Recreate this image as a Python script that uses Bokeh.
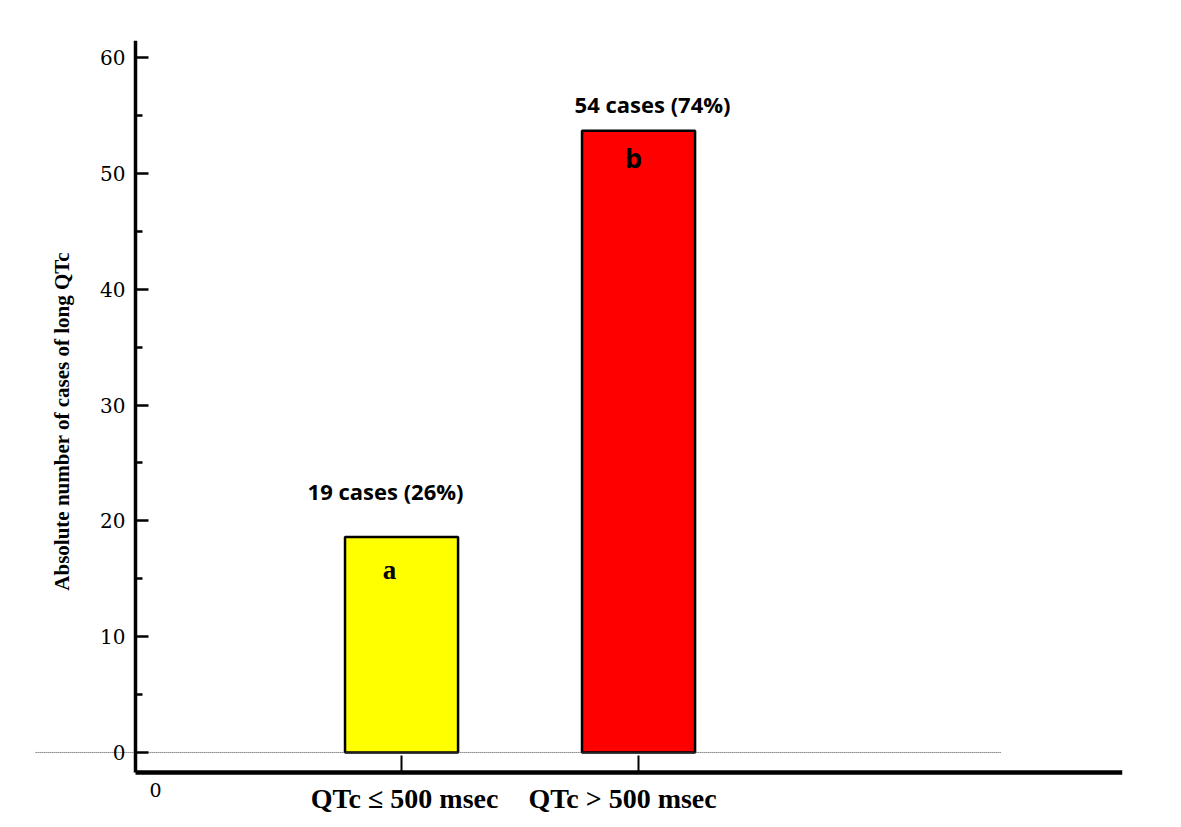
import math
from bokeh.plotting import figure
from bokeh.models import Range1d, FixedTicker, ColumnDataSource
from bokeh.core.properties import value
from bokeh.embed import file_html
from bokeh.resources import INLINE

categories = ["QTc ≤ 500 msec", "QTc > 500 msec"]
positions = [1, 2]
counts = [18.6, 53.7]
top_labels = ["19 cases (26%)", "54 cases (74%)"]
letters = ["a", "b"]
colors = ["#FFFF00", "#FF0000"]
y_title = "Absolute number of cases of long QTc"

# styling (pixels / fonts)
label_dx = [-16, 14]
label_dy = [-46, -27]
letter_dx = [-12, -5]
letter_dy = [33, 27]
letter_fonts = ["Liberation Serif", "Open Sans"]
cat_dx = [3, -16]

Y_AXIS_AT = -0.1224
X_AXIS_AT = -1.727
Y_TITLE_CENTER = 28.6

p = figure(width=1165, height=819, output_backend="svg", toolbar_location=None,
           x_range=Range1d(-0.65, 4.042), y_range=Range1d(-5.79, 61.49),
           min_border_left=10, min_border_right=43, min_border_top=40, min_border_bottom=0)
p.outline_line_color = None
p.xgrid.visible = False
p.ygrid.visible = False
p.background_fill_color = "white"

src = ColumnDataSource(dict(x=positions, top=counts, color=colors, lab=top_labels,
                            let=letters, ldx=label_dx, ldy=label_dy, tdx=letter_dx,
                            tdy=letter_dy, font=letter_fonts, cat=categories, cdx=cat_dx,
                            base=[X_AXIS_AT] * len(positions)))

p.vbar(x="x", top="top", bottom=0, width=0.477, fill_color="color", line_color="black",
       line_width=2.5, source=src)

# dotted zero line
p.segment(x0=-0.544, x1=3.53, y0=0, y1=0, line_color="#444444", line_width=1, line_dash="1 1")

p.text(x="x", y="top", text="lab", x_offset="ldx", y_offset="ldy", source=src,
       text_font=value("Open Sans"), text_font_style="bold", text_font_size="22px",
       text_align="center", text_baseline="middle", text_color="black")
p.text(x="x", y="top", text="let", x_offset="tdx", y_offset="tdy", source=src,
       text_font="font", text_font_style="bold", text_font_size="27px",
       text_align="center", text_baseline="middle", text_color="black")

# category labels under the x axis
p.text(x="x", y="base", text="cat", x_offset="cdx", y_offset=26, source=src,
       text_font=value("Liberation Serif"), text_font_style="bold", text_font_size="28px",
       text_align="center", text_baseline="middle", text_color="black")

# origin label "0"
p.text(x=[0], y=[X_AXIS_AT], text=["0"], y_offset=18, x_offset=-9,
       text_font=value("DejaVu Serif"), text_font_size="19px", text_align="center",
       text_baseline="middle", text_color="black")

# y axis title
p.text(x=[Y_AXIS_AT], y=[Y_TITLE_CENTER], text=[y_title], x_offset=-74, angle=math.pi / 2,
       text_font=value("Liberation Serif"), text_font_style="bold", text_font_size="21px",
       text_align="center", text_baseline="middle", text_color="black")

yax = p.yaxis[0]
yax.fixed_location = Y_AXIS_AT
yax.bounds = (X_AXIS_AT, 61.49)
yax.ticker = FixedTicker(ticks=[0, 10, 20, 30, 40, 50, 60],
                         minor_ticks=[5, 15, 25, 35, 45, 55])
yax.axis_line_width = 3.5
yax.major_tick_in = 13
yax.major_tick_out = 0
yax.minor_tick_in = 7
yax.minor_tick_out = 0
yax.major_tick_line_width = 2.5
yax.minor_tick_line_width = 2.5
yax.major_label_text_font = "DejaVu Serif"
yax.major_label_text_font_size = "20px"
yax.major_label_text_color = "black"
yax.major_label_standoff = 10

xax = p.xaxis[0]
xax.fixed_location = X_AXIS_AT
xax.bounds = (Y_AXIS_AT, 4.042)
xax.ticker = FixedTicker(ticks=positions, minor_ticks=[])
xax.major_label_overrides = {pos: "" for pos in positions}
xax.axis_line_width = 4.5
xax.major_tick_in = 17
xax.major_tick_out = 0
xax.major_tick_line_width = 2
xax.minor_tick_in = 0
xax.minor_tick_out = 0

open("out.html", "w").write(file_html(p, INLINE))
